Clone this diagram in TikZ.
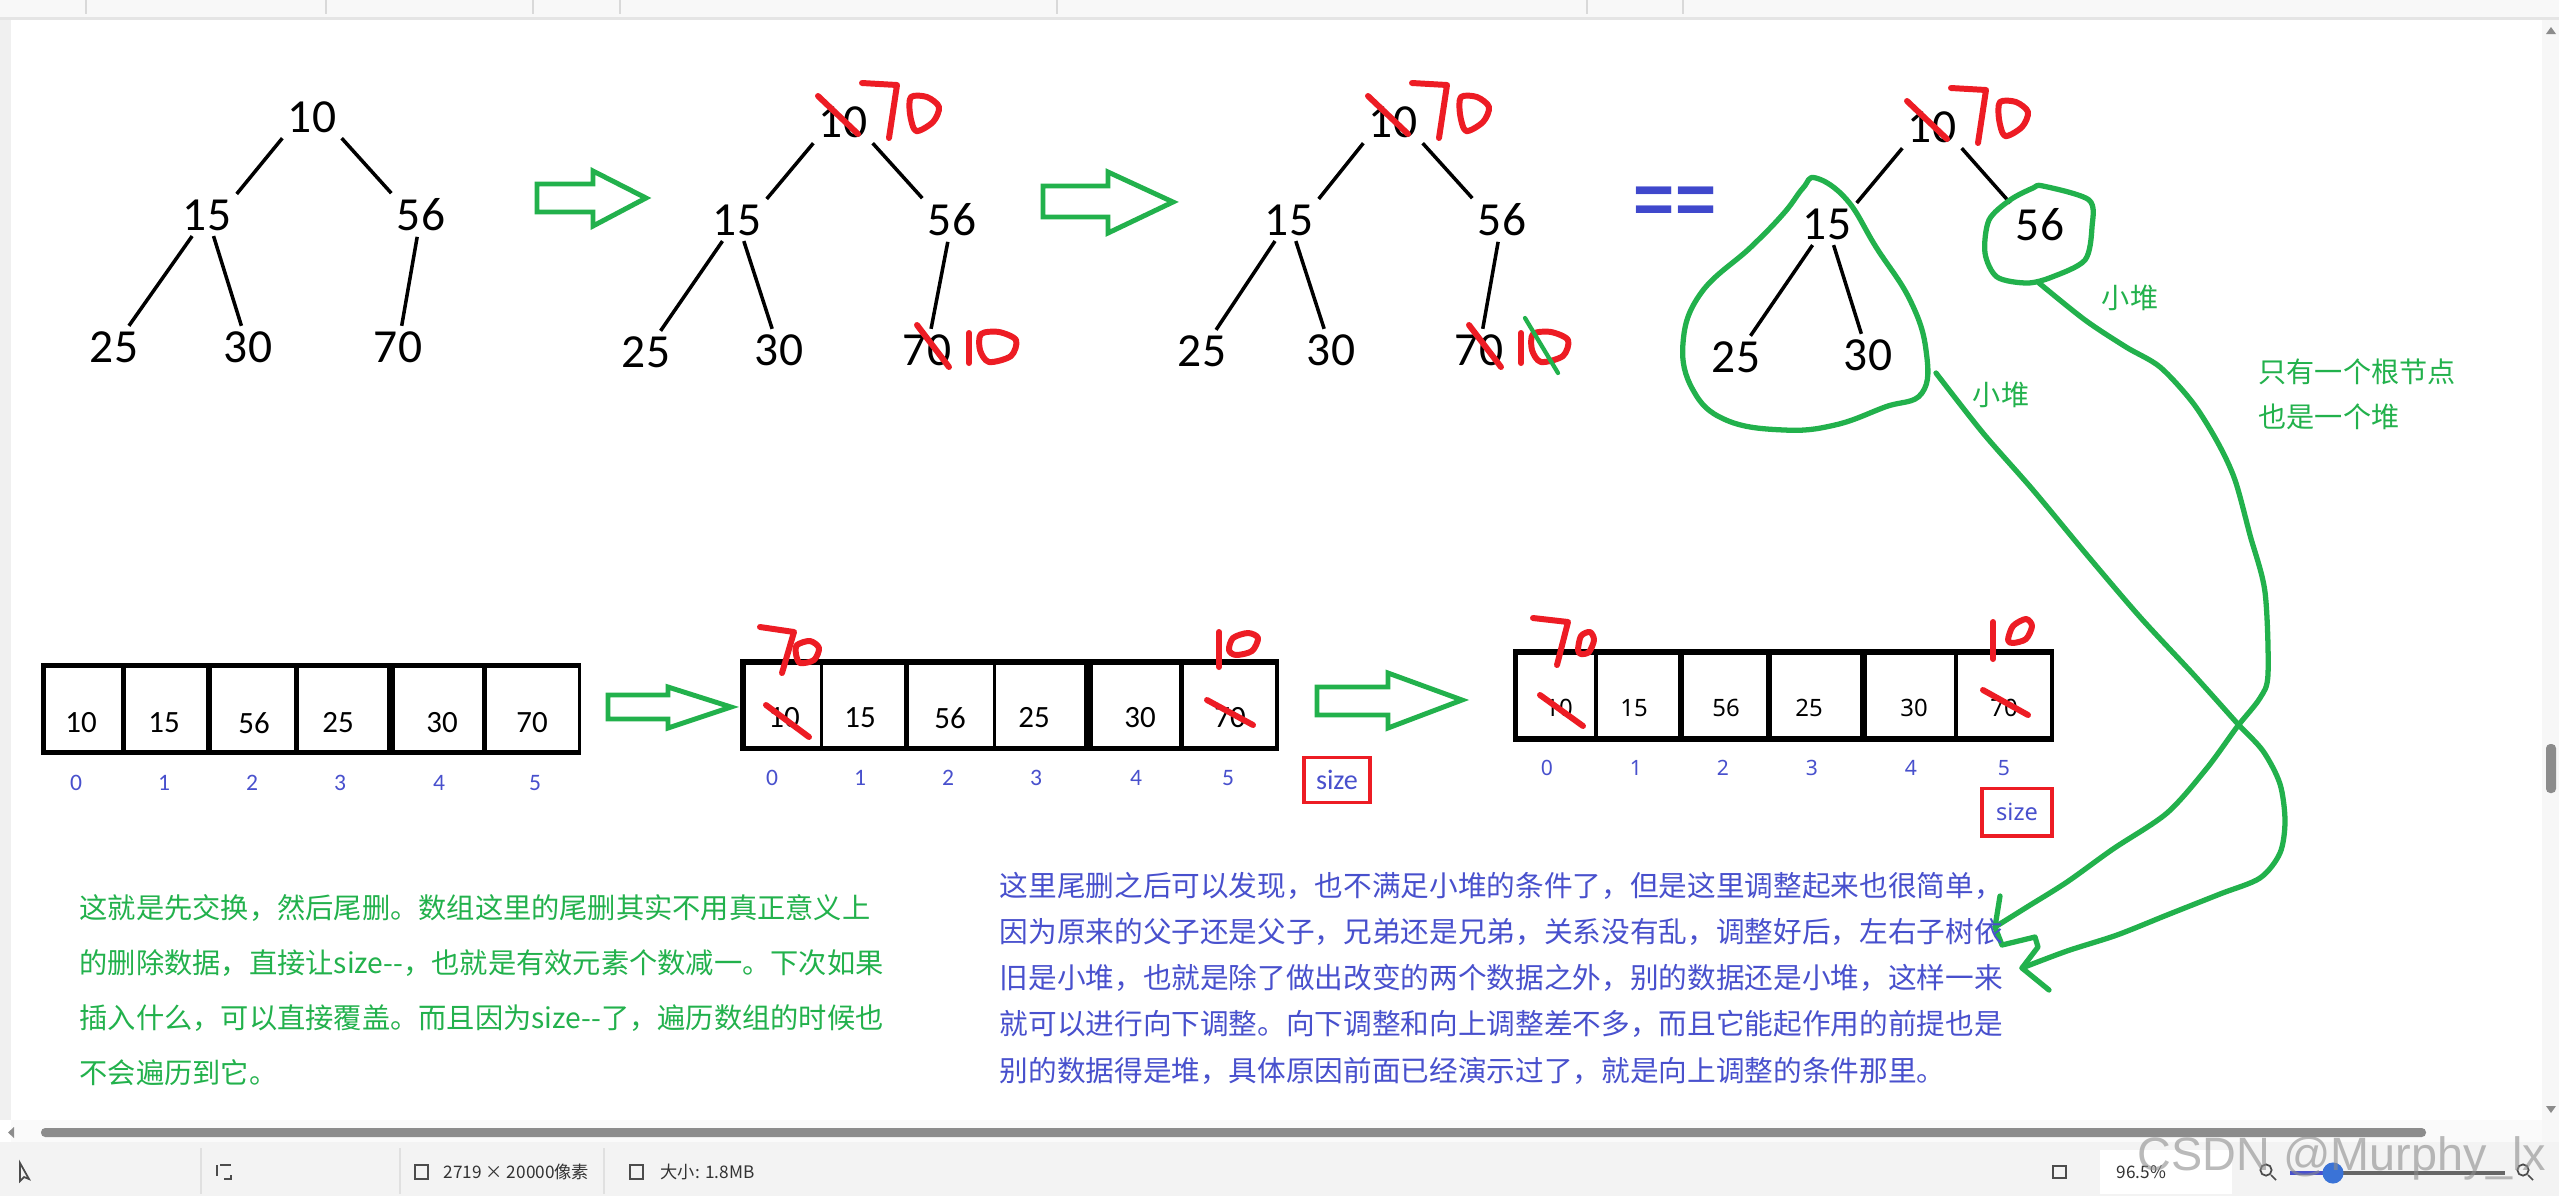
\documentclass[tikz,border=0pt]{standalone}
\usepackage{fontspec}
\usepackage{tikz}
\usetikzlibrary{positioning}
\newfontfamily\calib{Carlito}
\newfontfamily\nsans{Noto Sans}
\newfontfamily\cjk{Noto Sans CJK SC}
\newfontfamily\arial{Liberation Sans}
\definecolor{hgreen}{RGB}{34,177,76}
\definecolor{hred}{RGB}{237,28,36}
\definecolor{hblue}{RGB}{72,80,205}
\definecolor{hindigo}{RGB}{63,72,204}
\definecolor{chrome}{RGB}{243,243,243}

% handwritten corrections, placed at the crossed-out number
\tikzset{
  redseventy/.pic={
    \draw[hand] (-25,-26) -- (15,12);
    \draw[hand] (19,-39) -- (54,-37) -- (46,16);
    \draw[hand] plot[smooth cycle] coordinates {(68,-25) (84,-25) (96,-15) (90,0) (73,9) (67,-8)};
  },
  redten/.pic={
    \draw[hand] (-10,-25) -- (22,17);
    \draw[hand] (42,-17) -- (42,13);
    \draw[hand] plot[smooth cycle] coordinates {(54,-16) (72,-18) (89,-10) (84,6) (62,12) (53,0)};
  },
}

\begin{document}
\begin{tikzpicture}[
  x=0.01cm, y=-0.01cm,
  tnum/.style={font=\calib\fontsize{13.5}{16}\selectfont, inner sep=1.4pt},
  twig/.style={line width=1pt},
  anum/.style={font=\calib\fontsize{8.8}{10}\selectfont, inner sep=0pt},
  bnum/.style={font=\nsans\fontsize{6.8}{8}\selectfont, inner sep=0pt},
  idx/.style={font=\calib\fontsize{6.7}{8}\selectfont, text=hblue, inner sep=0pt},
  idxb/.style={font=\nsans\fontsize{6}{7}\selectfont, text=hblue, inner sep=0pt},
  sizebox/.style={draw=hred, line width=1.1pt, text=hblue, inner sep=0pt},
  hand/.style={draw=hred, line width=1.7pt, line cap=round, line join=round},
  garr/.style={draw=hgreen, line width=1.4pt},
  ring/.style={draw=hgreen, line width=1.5pt, line cap=round, line join=round},
  note/.style={font=\cjk\fontsize{8}{10}\selectfont, text=hgreen, inner sep=0pt},
  para/.style={font=\cjk\fontsize{8.15}{10}\selectfont, inner sep=0pt, anchor=base west},
  bar/.style={font=\cjk\fontsize{4.9}{6}\selectfont, text=black!80, inner sep=0pt, anchor=west},
]
\useasboundingbox (0,0) rectangle (2559,1196);
\fill[white] (0,0) rectangle (2559,1196);

% window chrome
\fill[chrome!60] (0,0) rectangle (2559,17);
\fill[black!10] (0,17) rectangle (2559,20);
\foreach \x in {86,326,533,620,1057,1587,1683}
  \draw[black!15] (\x,0) -- (\x,14);
\fill[black!6] (0,20) rectangle (11,1120);
\fill[black!3] (2542,20) rectangle (2559,1142);
\fill[black!45, rounded corners=1.2pt] (2546,744) rectangle (2556,793);
\fill[black!45] (2546,34) -- (2556,34) -- (2551,27) -- cycle;
\fill[black!45] (2546,1106) -- (2556,1106) -- (2551,1113) -- cycle;
\fill[black!2] (11,1120) rectangle (2542,1142);
\fill[black!45, rounded corners=1.2pt] (41,1128) rectangle (2426,1137);
\fill[black!45] (14,1127) -- (14,1138) -- (8,1132.5) -- cycle;

% tree one
\node[tnum] (a10) at (312,117) {10};
\node[tnum] (a15) at (207,215) {15};
\node[tnum] (a56) at (421,215) {56};
\node[tnum] (a25) at (114,347) {25};
\node[tnum] (a30) at (248,347) {30};
\node[tnum] (a70) at (398,347) {70};
\draw[twig] (a10.south west) -- (a15.north east);
\draw[twig] (a10.south east) -- (a56.north west);
\draw[twig] (a15) -- (a25);
\draw[twig] (a15) -- (a30);
\draw[twig] (a56) -- (a70);

% tree two
\node[tnum] (b10) at (843,122) {10};
\node[tnum] (b15) at (737,220) {15};
\node[tnum] (b56) at (952,220) {56};
\node[tnum] (b25) at (646,352) {25};
\node[tnum] (b30) at (779,350) {30};
\node[tnum] (b70) at (927,350) {70};
\draw[twig] (b10.south west) -- (b15.north east);
\draw[twig] (b10.south east) -- (b56.north west);
\draw[twig] (b15) -- (b25);
\draw[twig] (b15) -- (b30);
\draw[twig] (b56) -- (b70);
\pic at (b10) {redseventy};
\pic at (b70) {redten};

% tree three
\node[tnum] (c10) at (1393,122) {10};
\node[tnum] (c15) at (1289,220) {15};
\node[tnum] (c56) at (1502,220) {56};
\node[tnum] (c25) at (1202,351) {25};
\node[tnum] (c30) at (1331,350) {30};
\node[tnum] (c70) at (1479,350) {70};
\draw[twig] (c10.south west) -- (c15.north east);
\draw[twig] (c10.south east) -- (c56.north west);
\draw[twig] (c15) -- (c25);
\draw[twig] (c15) -- (c30);
\draw[twig] (c56) -- (c70);
\pic at (c10) {redseventy};
\pic at (c70) {redten};
\draw[ring, line width=1.2pt] (1525,318) -- (1558,373);

% tree four
\node[tnum] (d10) at (1932,127) {10};
\node[tnum] (d15) at (1827,224) {15};
\node[tnum] (d56) at (2040,225) {56};
\node[tnum] (d25) at (1736,357) {25};
\node[tnum] (d30) at (1868,355) {30};
\draw[twig] (d10.south west) -- (d15.north east);
\draw[twig] (d10.south east) -- (d56.north west);
\draw[twig] (d15) -- (d25);
\draw[twig] (d15) -- (d30);
\pic at (d10) {redseventy};
\node[font=\arial\bfseries\fontsize{20}{24}\selectfont, text=hindigo, inner sep=0pt] (eq) at (1675,205) {==};

% hollow green arrows
\draw[garr] (537,184) -- (593,184) -- (593,171) -- (646,198) -- (593,226) -- (593,212) -- (537,212) -- cycle;
\draw[garr] (1043,186) -- (1108,186) -- (1108,172) -- (1173,202) -- (1108,233) -- (1108,217) -- (1043,217) -- cycle;
\draw[garr] (608,695) -- (668,695) -- (668,687) -- (731,707) -- (668,728) -- (668,719) -- (608,719) -- cycle;
\draw[garr] (1317,687) -- (1388,687) -- (1388,673) -- (1462,700) -- (1388,728) -- (1388,715) -- (1317,715) -- cycle;

% array one
\fill (41,663) rectangle (581,755);
\foreach \l/\r in {46/121,126/206,212/294,299/387,395/482,487/578}
  \fill[white] (\l,668) rectangle (\r,750);
\foreach \v/\x [count=\i from 0] in {10/81,15/164,56/254,25/338,30/442,70/532}
  \node[anum] (p\i) at (\x,723) {\v};
\foreach \x [count=\i from 0] in {76,164,252,340,439,535}
  \node[idx] (pi\i) at (\x,783) {\i};

% array two
\fill (740,659) rectangle (1279,751);
\foreach \l/\r in {746/820,823/904,909/993,996/1084,1093/1179,1184/1275}
  \fill[white] (\l,665) rectangle (\r,746);
\foreach \v/\x [count=\i from 0] in {10/784,15/860,56/950,25/1034,30/1140,70/1230}
  \node[anum] (q\i) at (\x,718) {\v};
\foreach \x [count=\i from 0] in {772,860,948,1036,1136,1228}
  \node[idx] (qi\i) at (\x,778) {\i};
\node[sizebox, minimum width=19pt, minimum height=12.8pt, font=\calib\fontsize{8}{9}\selectfont] (qs) at (1337,780) {size};
\draw[hand] (760,627) -- (794,632) -- (782,673);
\draw[hand] plot[smooth cycle] coordinates {(797,645) (810,641) (819,648) (814,660) (800,663) (796,654)};
\draw[hand] (766,705) -- (809,737);
\draw[hand] (1219,632) -- (1219,667);
\draw[hand] plot[smooth cycle] coordinates {(1229,650) (1233,638) (1248,633) (1258,638) (1252,651) (1236,655)};
\draw[hand] (1207,700) -- (1253,725);

% array three
\fill (1513,649) rectangle (2054,742);
\foreach \l/\r in {1518/1594,1598/1678,1684/1766,1772/1860,1867/1954,1958/2050}
  \fill[white] (\l,655) rectangle (\r,736);
\foreach \v/\x [count=\i from 0] in {10/1559,15/1634,56/1726,25/1809,30/1914,70/2004}
  \node[bnum] (s\i) at (\x,708) {\v};
\foreach \x [count=\i from 0] in {1547,1636,1723,1812,1911,2004}
  \node[idxb] (si\i) at (\x,768) {\i};
\node[sizebox, minimum width=19.9pt, minimum height=13.4pt, font=\nsans\fontsize{6.7}{8}\selectfont] (ss) at (2017,812) {size};
\draw[hand] (1533,618) -- (1568,622) -- (1557,665);
\draw[hand] plot[smooth cycle] coordinates {(1578,650) (1581,636) (1590,632) (1594,640) (1589,652) (1581,654)};
\draw[hand] (1540,695) -- (1583,726);
\draw[hand] (1993,622) -- (1993,659);
\draw[hand] plot[smooth cycle] coordinates {(2008,640) (2013,626) (2026,619) (2032,626) (2026,639) (2013,643)};
\draw[hand] (1983,690) -- (2028,715);

% green loops and the two curves into the text
\draw[ring] plot[smooth cycle, tension=0.7] coordinates {(1816,178) (1847,200) (1876,247) (1910,300) (1926,350) (1922,393) (1885,407) (1835,425) (1784,430) (1726,420) (1693,390) (1683,343) (1701,293) (1751,247) (1784,213) (1803,188)};
\draw[ring] plot[smooth cycle] coordinates {(2043,186) (2089,200) (2092,227) (2085,260) (2052,277) (2027,283) (1997,277) (1985,253) (1989,220) (2010,200) (2033,188)};
\coordinate (tipA) at (2022,968);
\coordinate (tipB) at (1995,927);
\draw[ring] plot[smooth] coordinates {(1936,373) (1983,433) (2033,490) (2087,555) (2140,617) (2193,674) (2237,723) (2263,751) (2280,784) (2285,821) (2280,853) (2260,878) (2220,894) (2167,915) (2117,935) (2067,951) (tipA)};
\draw[ring] plot[smooth] coordinates {(2039,283) (2085,320) (2126,347) (2160,367) (2193,403) (2218,443) (2235,480) (2250,535) (2265,592) (2268,674) (2260,698) (2237,727) (2207,768) (2167,813) (2113,849) (2067,882) (2027,907) (tipB)};
\draw[ring] (2000,896) -- (tipB) -- (2002,945) -- (2035,937) -- (2038,947) -- (tipA) -- (2049,990);
\node[note] (lb1) at (2130,298) {小堆};
\node[note] (lb2) at (2001,395) {小堆};
\node[note, anchor=west] (lb3) at (2258,372) {只有一个根节点};
\node[note, anchor=west] (lb4) at (2258,417) {也是一个堆};

% explanations
\foreach \txt [count=\i from 0] in {这就是先交换，然后尾删。数组这里的尾删其实不用真正意义上, 的删除数据，直接让size--，也就是有效元素个数减一。下次如果, 插入什么，可以直接覆盖。而且因为size--了，遍历数组的时候也, 不会遍历到它。}
  \node[para, text=hgreen, font=\cjk\fontsize{8.03}{10}\selectfont] (lt\i) at (79,{918+55.3*\i}) {\txt};
\foreach \txt [count=\i from 0] in {这里尾删之后可以发现，也不满足小堆的条件了，但是这里调整起来也很简单，, 因为原来的父子还是父子，兄弟还是兄弟，关系没有乱，调整好后，左右子树依, 旧是小堆，也就是除了做出改变的两个数据之外，别的数据还是小堆，这样一来, 就可以进行向下调整。向下调整和向上调整差不多，而且它能起作用的前提也是, 别的数据得是堆，具体原因前面已经演示过了，就是向上调整的条件那里。}
  \node[para, text=hblue] (rt\i) at (999,{896+46.25*\i}) {\txt};

% status bar
\fill[chrome] (0,1142) rectangle (2559,1196);
\foreach \x in {201,400,604}
  \draw[black!12] (\x,1148) -- (\x,1194);
\draw[black!70, line width=0.5pt] (20,1163) -- (20,1181) -- (24,1177) -- (29,1179) -- cycle;
\draw[black!70, dashed, line width=0.5pt] (217,1165) rectangle (231,1179);
\draw[black!70, line width=0.6pt] (415,1165) rectangle (428,1179);
\draw[black!70, line width=0.6pt] (630,1165) rectangle (643,1179);
\node[bar] (dims) at (443,1172) {2719 × 20000像素};
\node[bar] (fsize) at (660,1172) {大小: 1.8MB};
\draw[black!70, line width=0.5pt] (2053,1166) rectangle (2066,1178);
\fill[white] (2100,1150) rectangle (2232,1194);
\node[bar] (zoompc) at (2116,1172) {96.5\%};
\draw[black!70, line width=0.5pt] (2266,1170) circle [radius=1.6pt] (2271,1175) -- (2276,1180);
\draw[hblue, line width=1pt] (2290,1173) -- (2333,1173);
\draw[black!60, line width=1pt] (2333,1173) -- (2505,1173);
\fill[hblue!80!cyan] (2333,1173) circle [radius=3pt];
\draw[black!70, line width=0.5pt] (2523,1170) circle [radius=1.6pt] (2528,1175) -- (2533,1180);
\node[font=\arial\fontsize{13.3}{15}\selectfont, text=black!45, opacity=0.6, inner sep=0pt] (wm) at (2342,1158) {CSDN @Murphy\_lx};
\end{tikzpicture}
\end{document}
